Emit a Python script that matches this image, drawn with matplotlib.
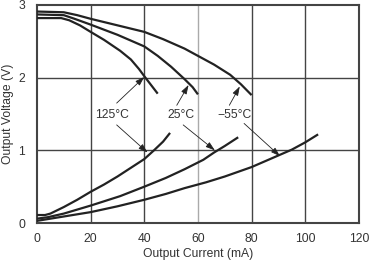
import numpy as np
import matplotlib
matplotlib.use('Agg')
import matplotlib.pyplot as plt

plt.rcParams['font.family'] = ['Liberation Sans', 'DejaVu Sans']

# high-side output voltage vs current
hi_125_i = [0, 9, 12, 16, 20, 25, 31, 35, 38, 40, 42.5, 45]
hi_125_v = [2.82, 2.82, 2.79, 2.72, 2.63, 2.52, 2.37, 2.25, 2.12, 2.02, 1.90, 1.78]
hi_25_i = [0, 10, 14, 20, 25, 30, 35, 40, 45, 50, 55, 58, 60]
hi_25_v = [2.87, 2.86, 2.81, 2.73, 2.66, 2.59, 2.51, 2.43, 2.30, 2.15, 1.98, 1.87, 1.77]
hi_m55_i = [0, 10, 15, 20, 30, 40, 47, 55, 60, 66, 72, 76, 80]
hi_m55_v = [2.91, 2.90, 2.86, 2.81, 2.72, 2.63, 2.53, 2.40, 2.30, 2.18, 2.04, 1.91, 1.76]

# low-side output voltage vs current
lo_125_i = [0, 3, 5, 10, 15, 20, 25, 30, 35, 40, 43.6, 47, 49.6]
lo_125_v = [0.11, 0.11, 0.13, 0.22, 0.32, 0.43, 0.53, 0.64, 0.76, 0.88, 1.0, 1.12, 1.24]
lo_25_i = [0, 4, 10, 20, 31, 40, 48, 55, 62, 66, 70, 75]
lo_25_v = [0.06, 0.08, 0.13, 0.24, 0.37, 0.50, 0.62, 0.74, 0.87, 0.97, 1.06, 1.18]
lo_m55_i = [0, 5, 10, 20, 30, 40, 48, 55, 63, 70, 80, 90, 95, 100, 104.8]
lo_m55_v = [0.03, 0.06, 0.09, 0.15, 0.23, 0.32, 0.40, 0.48, 0.56, 0.64, 0.77, 0.93, 1.01, 1.11, 1.22]

labels = ['125°C', '25°C', '\u221255°C']
label_pos = [(27.8, 1.49), (53.5, 1.49), (73.8, 1.49)]
up_tail = [(29.7, 1.65), (52.1, 1.62), (71.7, 1.62)]
up_head = [(40.0, 2.01), (56.5, 1.90), (75.6, 1.88)]
dn_tail = [(29.7, 1.35), (54.5, 1.35), (77.2, 1.37)]
dn_head = [(41.2, 0.97), (66.3, 1.00), (90.6, 0.92)]

xticks = [0, 20, 40, 60, 80, 100, 120]
yticks = [0, 1, 2, 3]

txt = '#333333'
fig = plt.figure(figsize=(3.7, 2.63), dpi=100)
ax = fig.add_axes([0.1, 0.152, 0.87, 0.829])

for xv in xticks[1:-1]:
    ax.axvline(xv, color='#aaaaaa' if xv == 60 else '#444444', lw=1.0, zorder=1)
for yv in yticks[1:-1]:
    ax.axhline(yv, color='#444444', lw=1.0, zorder=1)

for xs, ys in [(hi_125_i, hi_125_v), (hi_25_i, hi_25_v), (hi_m55_i, hi_m55_v),
               (lo_125_i, lo_125_v), (lo_25_i, lo_25_v), (lo_m55_i, lo_m55_v)]:
    ax.plot(xs, ys, color='#222222', lw=1.6, solid_joinstyle='round',
            solid_capstyle='butt', zorder=3)

arrow = dict(arrowstyle='-|>,head_length=0.55,head_width=0.18', color='#222222',
             lw=0.6, shrinkA=0, shrinkB=0)
for i in range(3):
    ax.text(label_pos[i][0], label_pos[i][1], labels[i], ha='center', va='center',
            fontsize=8.7, color=txt, zorder=4)
    ax.annotate('', xy=up_head[i], xytext=up_tail[i], arrowprops=arrow, zorder=4)
    ax.annotate('', xy=dn_head[i], xytext=dn_tail[i], arrowprops=arrow, zorder=4)

ax.set_xlim(0, 120)
ax.set_ylim(0, 3)
ax.set_xticks(xticks)
ax.set_yticks(yticks)
ax.tick_params(length=0, labelsize=8.7, labelcolor=txt)
ax.tick_params(axis='x', pad=7)
ax.tick_params(axis='y', pad=8.5)
for s in ax.spines.values():
    s.set_color('#444444')
    s.set_linewidth(1.5)
ax.set_xlabel('Output Current (mA)', fontsize=8.7, color=txt, labelpad=2)
ax.set_ylabel('Output Voltage (V)', fontsize=8.7, color=txt, labelpad=3)

fig.savefig('out.png', dpi=100)
